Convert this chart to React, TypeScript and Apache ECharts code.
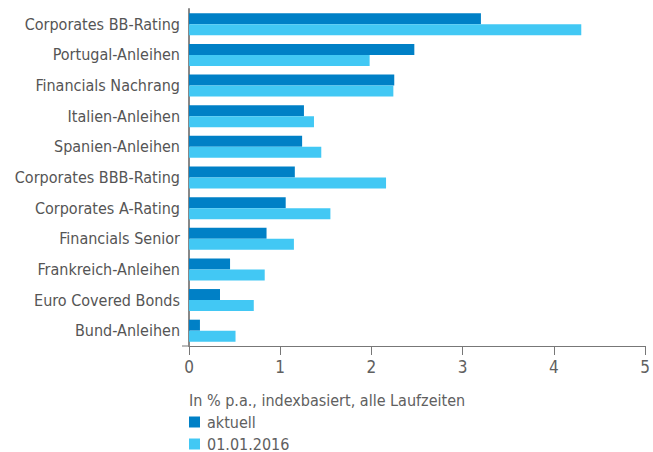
import React, { useEffect, useRef } from "react";
import * as echarts from "echarts";

const categories = [
  "Corporates BB-Rating",
  "Portugal-Anleihen",
  "Financials Nachrang",
  "Italien-Anleihen",
  "Spanien-Anleihen",
  "Corporates BBB-Rating",
  "Corporates A-Rating",
  "Financials Senior",
  "Frankreich-Anleihen",
  "Euro Covered Bonds",
  "Bund-Anleihen",
];
const aktuell = [3.2, 2.47, 2.25, 1.26, 1.24, 1.16, 1.06, 0.85, 0.45, 0.34, 0.12];
const stand2016 = [4.3, 1.98, 2.24, 1.37, 1.45, 2.16, 1.55, 1.15, 0.83, 0.71, 0.51];
const seriesNames = ["aktuell", "01.01.2016"];
const noteText = "In % p.a., indexbasiert, alle Laufzeiten";

const FONT = "'Liberation Sans Narrow', 'DejaVu Sans Condensed', 'Roboto', sans-serif";
const TEXT = "#606060";

export default function App() {
  const ref = useRef<HTMLDivElement>(null);
  useEffect(() => {
    document.body.style.margin = "0";
    if (!ref.current) return;
    const chart = echarts.init(ref.current, undefined, { renderer: "svg" });
    const legendCommon = {
      orient: "horizontal",
      left: 189,
      padding: 0,
      itemWidth: 11,
      itemHeight: 11,
      itemGap: 10,
      icon: "rect",
      textStyle: { fontFamily: FONT, fontSize: 16, color: TEXT, padding: [0, 0, 0, 2] },
    };
    chart.setOption({
      animation: false,
      textStyle: { fontFamily: FONT },
      title: {
        text: noteText,
        left: 189,
        top: 392,
        padding: 0,
        textStyle: { fontFamily: FONT, fontSize: 16, fontWeight: "normal", color: TEXT },
      },
      legend: [
        { ...legendCommon, data: [seriesNames[0]], top: 414 },
        { ...legendCommon, data: [seriesNames[1]], top: 436 },
      ],
      grid: { left: 189, right: 4, top: 9, bottom: 106, containLabel: false },
      xAxis: {
        type: "value",
        min: 0,
        max: 5,
        interval: 1,
        splitLine: { show: false },
        axisLine: { show: true, lineStyle: { color: "#777", width: 1 } },
        axisTick: { show: true, length: 9, lineStyle: { color: "#777" } },
        axisLabel: { fontFamily: FONT, fontSize: 17, color: TEXT, margin: 12 },
      },
      yAxis: {
        type: "category",
        data: categories,
        inverse: true,
        axisLine: { show: true, lineStyle: { color: "#888", width: 2 } },
        axisTick: { show: false },
        axisLabel: { fontFamily: FONT, fontSize: 16, color: "#555", margin: 9 },
      },
      series: [
        {
          name: seriesNames[0],
          type: "bar",
          data: aktuell,
          barWidth: 11,
          barGap: "0%",
          itemStyle: { color: "#0080C6" },
        },
        {
          name: seriesNames[1],
          type: "bar",
          data: stand2016,
          barWidth: 11,
          barGap: "0%",
          itemStyle: { color: "#42C8F4" },
        },
      ],
      graphic: [
        {
          type: "line",
          shape: { x1: 182, y1: 346, x2: 189, y2: 346 },
          style: { stroke: "#777", lineWidth: 1 },
        },
      ],
    });
    return () => chart.dispose();
  }, []);
  return <div ref={ref} style={{ width: 653, height: 452 }} />;
}
